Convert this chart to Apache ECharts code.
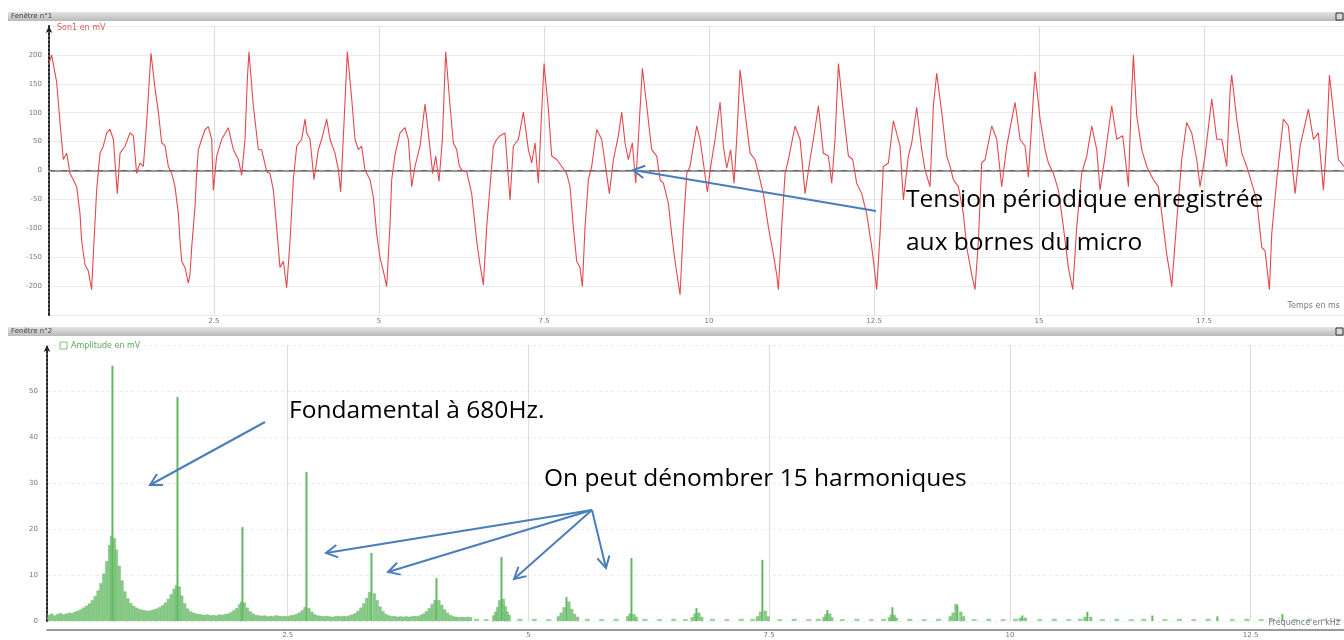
<!DOCTYPE html>
<html>
<head>
<meta charset="utf-8">
<script src="https://cdn.jsdelivr.net/npm/echarts@6/dist/echarts.min.js"></script>
<style>
  html, body { margin: 0; padding: 0; background: #ffffff; }
  #chart { width: 1344px; height: 640px; }
</style>
</head>
<body>
<div id="chart"></div>
<script>
// ---- Microphone voltage (Son1), time in ms, one line per period ----
const timeMs = [
  0.000,0.040,0.076,0.116,0.167,0.217,0.268,0.318,0.369,0.419,0.470,0.495,0.545,0.596,0.646,0.672,0.722,0.773,0.823,0.874,0.924,0.975,1.035,1.076,1.152,1.227,1.278,1.328,1.379,1.429,1.480,1.545,
  1.606,1.657,1.707,1.758,1.808,1.859,1.909,1.960,1.985,2.010,2.061,2.111,2.136,2.162,2.212,2.237,2.263,2.313,2.364,2.414,2.465,2.490,2.540,2.616,2.717,2.793,2.869,2.919,2.970,3.005,3.030,
  3.096,3.172,3.222,3.298,3.348,3.399,3.449,3.500,3.551,3.601,3.652,3.702,3.753,3.828,3.879,3.904,3.955,4.015,4.081,4.131,4.207,4.258,4.333,4.384,4.419,4.470,4.520,
  4.586,4.636,4.687,4.737,4.788,4.864,4.914,4.965,5.015,5.066,5.116,5.167,5.192,5.242,5.318,5.394,5.444,5.495,5.545,5.621,5.697,5.747,5.813,5.859,5.909,5.960,6.010,
  6.076,6.126,6.177,6.217,6.253,6.328,6.404,6.480,6.530,6.581,6.631,6.682,6.732,6.783,6.833,6.909,6.985,7.035,7.111,7.187,7.263,7.313,7.364,7.414,7.449,7.500,
  7.566,7.616,7.692,7.768,7.843,7.894,7.944,7.995,8.045,8.081,8.121,8.172,8.222,8.298,8.374,8.424,8.490,8.551,8.626,8.677,8.727,8.778,8.838,8.889,8.929,8.990,
  9.056,9.131,9.207,9.258,9.308,9.384,9.434,9.485,9.561,9.611,9.662,9.712,9.813,9.864,9.914,9.975,10.025,10.091,10.167,10.217,10.268,10.328,10.379,10.419,10.470,
  10.545,10.621,10.697,10.773,10.823,10.899,10.975,11.025,11.051,11.101,11.152,11.202,11.303,11.379,11.455,11.530,11.581,11.657,11.732,11.808,11.859,11.909,11.960,
  12.035,12.111,12.177,12.237,12.313,12.389,12.465,12.515,12.540,12.591,12.641,12.717,12.793,12.894,12.944,13.020,13.071,13.146,13.222,13.273,13.348,13.399,13.449,
  13.525,13.601,13.652,13.702,13.778,13.854,13.904,13.980,14.030,14.081,14.131,14.182,14.283,14.359,14.434,14.510,14.636,14.712,14.788,14.838,14.889,14.939,
  15.015,15.091,15.141,15.217,15.293,15.369,15.444,15.510,15.571,15.646,15.722,15.798,15.874,15.924,16.000,16.101,16.177,16.268,16.354,16.394,16.429,
  16.480,16.556,16.631,16.732,16.808,16.884,16.934,16.985,17.010,17.086,17.162,17.237,17.313,17.389,17.439,17.515,17.616,17.692,17.768,17.843,17.894,17.919,
  17.995,18.071,18.146,18.222,18.298,18.374,18.424,18.490,18.525,18.601,18.702,18.778,18.879,18.955,19.081,19.157,19.232,19.308,19.359,19.399,19.460,19.535,19.621
];
const tensionMv = [
  185,200,177,153,83,19,30,-5,-16,-28,-75,-122,-163,-174,-206,-145,-34,30,42,65,71,54,-40,30,42,65,60,-5,13,7,83,203,
  142,101,48,43,7,-5,-28,-75,-122,-157,-168,-195,-180,-133,-63,-5,36,54,71,76,54,-34,25,54,74,36,19,-8,54,159,205,
  112,36,36,-2,-5,-34,-98,-168,-157,-203,-122,-16,42,54,89,65,54,-16,36,54,89,54,30,1,-37,83,206,
  124,54,36,42,1,-16,-46,-110,-151,-174,-201,-92,-16,27,65,74,54,-28,7,42,115,65,-5,25,-19,54,206,
  112,48,36,7,1,-2,-40,-122,-163,-198,-98,-28,42,54,60,65,-51,42,54,101,36,13,48,-22,65,185,
  106,25,19,7,-5,-28,-98,-157,-168,-201,-98,-16,7,71,54,13,-40,19,60,101,48,19,48,-22,54,177,
  112,36,25,-16,-22,-57,-110,-157,-215,-98,-5,7,77,54,13,-37,7,54,118,42,4,36,-22,54,174,
  101,30,19,-16,-40,-98,-145,-180,-206,-98,-5,19,77,54,-40,19,54,112,30,25,-22,54,185,
  101,25,19,-22,-40,-75,-133,-180,-206,-110,7,13,86,42,-51,25,48,109,36,1,-28,112,168,
  101,25,7,-16,-28,-75,-133,-180,-206,-122,13,19,77,54,-28,42,118,54,42,-11,83,171,
  89,36,13,-5,-34,-98,-168,-206,-98,-5,25,77,36,-34,25,112,54,60,-28,112,200,
  95,36,7,-16,-28,-98,-145,-180,-201,-87,19,83,65,19,-28,25,124,54,54,7,136,165,
  89,30,7,-22,-51,-133,-139,-206,-110,-16,89,77,-40,42,106,54,65,-34,54,165,101,19,7
];

// ---- Amplitude spectrum, frequency in kHz, amplitude in mV ----
const harmonicFreqKHz = [0.685,1.360,2.035,2.700,3.375,4.050,4.725,5.400,6.075,6.750,7.435,8.110,8.785,9.460,10.135,10.810,11.485,12.160,12.835];
const harmonicAmpMv   = [55.5,48.7,20.4,32.4,14.8,9.3,13.9,5.2,13.7,2.8,13.3,2.4,3.0,3.4,1.2,2.0,1.2,1.0,1.5];

// spectral spread around the lines [kHz, mV]
const spectrumSkirt = [
  [0.02,1.3],[0.05,1.6],[0.08,1.2],[0.11,1.5],[0.14,1.7],[0.17,1.4],[0.20,1.6],[0.23,1.8],[0.26,1.7],[0.29,2.0],
  [0.32,2.2],[0.35,2.5],[0.38,2.9],[0.41,3.3],[0.44,3.8],[0.47,4.5],[0.50,5.4],[0.53,6.6],[0.56,8.2],[0.59,10.3],
  [0.62,13.0],[0.65,16.5],[0.67,18.5],[0.70,18.0],[0.72,15.5],[0.75,12.0],[0.78,8.8],[0.81,6.4],[0.84,4.9],[0.87,3.9],
  [0.90,3.3],[0.93,2.9],[0.96,2.6],[0.99,2.4],[1.02,2.3],[1.05,2.2],[1.08,2.3],[1.11,2.5],[1.14,2.7],[1.17,3.0],
  [1.20,3.4],[1.23,4.0],[1.26,4.8],[1.29,5.8],[1.32,7.0],[1.345,7.8],[1.375,7.5],[1.40,5.5],[1.43,3.8],[1.46,2.7],
  [1.49,2.1],[1.52,1.8],[1.55,1.6],[1.58,1.5],[1.61,1.4],[1.64,1.3],[1.67,1.4],[1.70,1.2],[1.73,1.3],[1.76,1.2],
  [1.79,1.4],[1.82,1.3],[1.85,1.5],[1.88,1.6],[1.91,1.9],[1.94,2.3],[1.97,2.8],[2.00,3.6],[2.02,4.2],[2.05,4.0],
  [2.08,2.9],[2.11,2.1],[2.14,1.6],[2.17,1.3],[2.20,1.2],[2.23,1.1],[2.26,1.2],[2.29,1.0],[2.32,1.1],[2.35,1.0],
  [2.38,1.2],[2.41,1.1],[2.44,1.0],[2.47,1.1],[2.50,1.0],[2.53,1.2],[2.56,1.3],[2.59,1.5],[2.62,1.8],[2.65,2.3],
  [2.68,3.0],[2.72,2.8],[2.75,2.0],[2.78,1.5],[2.81,1.2],[2.84,1.1],[2.87,1.0],[2.90,1.1],[2.93,1.0],[2.96,0.9],
  [2.99,1.0],[3.02,1.1],[3.05,1.0],[3.08,1.1],[3.11,1.0],[3.14,1.2],[3.17,1.4],[3.20,1.7],[3.23,2.2],[3.26,2.9],
  [3.29,3.8],[3.32,5.0],[3.35,6.3],[3.40,6.0],[3.43,4.5],[3.46,3.1],[3.49,2.1],[3.52,1.5],[3.55,1.2],[3.58,1.0],
  [3.61,1.1],[3.64,0.9],[3.67,1.0],[3.70,0.9],[3.73,1.0],[3.76,0.9],[3.79,1.0],[3.82,1.1],[3.85,1.0],[3.88,1.3],
  [3.91,1.6],[3.94,2.1],[3.97,2.8],[4.00,3.7],[4.03,4.6],[4.07,4.5],[4.10,3.5],[4.13,2.5],[4.16,1.8],[4.19,1.3],
  [4.22,1.0],[4.25,0.9],[4.28,0.8],[4.31,0.9],[4.34,0.8],[4.37,0.9],[4.40,0.8],
  [4.64,1.2],[4.66,2.0],[4.68,3.0],[4.70,4.5],[4.74,4.8],[4.76,3.2],[4.78,2.0],[4.80,1.3],
  [5.31,1.0],[5.34,1.8],[5.37,3.0],[5.42,4.2],[5.45,2.6],[5.48,1.5],[5.51,0.9],
  [6.03,1.0],[6.055,1.6],[6.095,1.5],[6.12,0.9],
  [6.70,0.8],[6.73,1.6],[6.77,1.8],[6.80,0.9],
  [7.38,1.0],[7.41,2.0],[7.46,2.2],[7.49,1.0],
  [8.07,0.9],[8.09,1.5],[8.13,1.6],[8.15,0.8],
  [8.75,0.8],[8.77,1.4],[8.80,1.3],[8.82,0.7],
  [9.38,1.0],[9.41,1.8],[9.44,3.7],[9.49,2.0],[9.52,1.0],
  [10.11,0.7],[10.16,0.7],[10.78,0.9],[10.84,0.9]
];

// residual noise floor between the lines [kHz, mV]
const spectrumFloor = [
  [4.45,0.5],[4.55,0.4],[4.90,0.5],[5.05,0.5],[5.20,0.4],[5.60,0.5],[5.75,0.4],[5.90,0.5],[6.20,0.5],[6.35,0.4],
  [6.50,0.5],[6.62,0.4],[6.90,0.5],[7.05,0.4],[7.20,0.5],[7.32,0.5],[7.60,0.4],[7.75,0.5],[7.90,0.4],[8.00,0.5],
  [8.25,0.4],[8.40,0.5],[8.55,0.4],[8.68,0.5],[8.95,0.5],[9.10,0.4],[9.25,0.5],[9.62,0.4],[9.77,0.5],[9.92,0.4],
  [10.05,0.5],[10.30,0.4],[10.45,0.5],[10.60,0.4],[10.72,0.5],[10.95,0.4],[11.10,0.5],[11.25,0.4],[11.38,0.5],[11.60,0.4],
  [11.75,0.5],[11.90,0.4],[12.05,0.5],[12.30,0.4],[12.45,0.5],[12.60,0.4],[12.72,0.5],[12.95,0.4],[13.10,0.5],[13.25,0.4],
  [13.40,0.5]
];

const tensionData = timeMs.map((t, i) => [t, tensionMv[i]]);
const harmonicData = harmonicFreqKHz.map((f, i) => [f, harmonicAmpMv[i]]);

const tickFont = { fontFamily: 'DejaVu Sans', fontSize: 7, color: '#777777' };
const noteFont = '24.5px "Open Sans"';
const arrowBlue = '#4a7ebb';

// open "V" arrow from a tail point to a tip point
function arrow(x1, y1, x2, y2) {
  const ang = Math.atan2(y2 - y1, x2 - x1);
  const L = 13, a = 0.5;
  const p1 = [x2 - L * Math.cos(ang - a), y2 - L * Math.sin(ang - a)];
  const p2 = [x2 - L * Math.cos(ang + a), y2 - L * Math.sin(ang + a)];
  return [
    { type: 'line', shape: { x1, y1, x2, y2 }, style: { stroke: arrowBlue, lineWidth: 2 }, z: 50 },
    { type: 'polyline', shape: { points: [p1, [x2, y2], p2] }, style: { stroke: arrowBlue, lineWidth: 2, fill: null }, z: 50 }
  ];
}

// grey title strip of each acquisition window
function windowBar(y, label) {
  return [
    { type: 'rect', shape: { x: 8, y, width: 1336, height: 9 },
      style: { fill: new echarts.graphic.LinearGradient(0, 0, 0, 1, [
        { offset: 0, color: '#e4e4e4' }, { offset: 1, color: '#b9b9b9' }]) }, z: 1 },
    { type: 'text', x: 11, y: y + 4.5, style: { text: label, font: '7px "DejaVu Sans"', fill: '#444', verticalAlign: 'middle' }, z: 2 },
    { type: 'rect', shape: { x: 1336, y: y + 1, width: 7, height: 7 }, style: { fill: '#d8d8d8', stroke: '#333', lineWidth: 1 }, z: 2 }
  ];
}

const chart = echarts.init(document.getElementById('chart'), null, { renderer: 'canvas' });

const option = {
  animation: false,
  backgroundColor: '#ffffff',
  grid: [
    { left: 49, right: 0, top: 26, height: 289 },
    { left: 47, right: 0, top: 345, height: 276 }
  ],
  xAxis: [
    {
      gridIndex: 0, type: 'value', min: 0, max: 19.62, interval: 2.5,
      axisLine: { lineStyle: { color: '#9a9a9a', width: 2 } },
      axisTick: { show: false },
      axisLabel: Object.assign({ margin: 3, showMinLabel: false, showMaxLabel: false,
        formatter: v => (v === 0 ? '' : String(v)) }, tickFont),
      splitLine: { show: true, lineStyle: { color: '#dcdcdc', width: 1 } }
    },
    {
      gridIndex: 1, type: 'value', min: 0, max: 13.47, interval: 2.5, offset: 9,
      axisLine: { onZero: false, lineStyle: { color: '#9a9a9a', width: 2 } },
      axisTick: { show: false },
      axisLabel: Object.assign({ margin: 2, showMinLabel: false, showMaxLabel: false,
        formatter: v => (v === 0 ? '' : String(v)) }, tickFont),
      splitLine: { show: true, lineStyle: { color: '#dcdcdc', width: 1 } }
    }
  ],
  yAxis: [
    {
      gridIndex: 0, type: 'value', min: -250, max: 250, interval: 50,
      axisLine: { show: true, symbol: ['none', 'arrow'], symbolSize: [5, 7],
        lineStyle: { color: '#222', width: 2, type: [2, 2] } },
      axisTick: { show: false },
      axisLabel: Object.assign({ margin: 7,
        formatter: v => (Math.abs(v) === 250 ? '' : String(v)) }, tickFont),
      splitLine: { show: true, lineStyle: { color: '#ebebeb', width: 1 } }
    },
    {
      gridIndex: 1, type: 'value', min: 0, max: 60, interval: 10,
      axisLine: { show: true, symbol: ['none', 'arrow'], symbolSize: [5, 7],
        lineStyle: { color: '#222', width: 2, type: [2, 2] } },
      axisTick: { show: false },
      axisLabel: Object.assign({ margin: 9,
        formatter: v => (v === 60 ? '' : String(v)) }, tickFont),
      splitLine: { show: true, lineStyle: { color: '#ececec', width: 1, type: [3, 3] } }
    }
  ],
  series: [
    {
      name: 'Son1 en mV', type: 'line', xAxisIndex: 0, yAxisIndex: 0,
      data: tensionData, showSymbol: false, smooth: false, z: 5,
      lineStyle: { color: '#e3484f', width: 1.1 },
      markLine: {
        silent: true, symbol: 'none', label: { show: false },
        lineStyle: { color: '#666', type: [6, 6], width: 1 },
        data: [{ yAxis: 0 }]
      }
    },
    {
      name: 'floor', type: 'bar', xAxisIndex: 1, yAxisIndex: 1,
      data: spectrumFloor, barWidth: 5, barGap: '-100%', z: 2,
      itemStyle: { color: '#9fd39f' }
    },
    {
      name: 'Amplitude en mV', type: 'bar', xAxisIndex: 1, yAxisIndex: 1,
      data: harmonicData, barWidth: 2, barGap: '-100%', z: 4,
      itemStyle: { color: '#63b863' }
    },
    {
      name: 'skirt', type: 'bar', xAxisIndex: 1, yAxisIndex: 1,
      data: spectrumSkirt, barWidth: 3, barGap: '-100%', z: 3,
      itemStyle: { color: 'rgba(118,196,118,0.85)', borderColor: '#5aa85a', borderWidth: 0.3 }
    }
  ],
  graphic: [].concat(
    windowBar(12, 'Fenêtre n°1'),
    windowBar(327, 'Fenêtre n°2'),
    [
      { type: 'text', x: 57, y: 28, style: { text: 'Son1 en mV', font: '8px "DejaVu Sans"', fill: '#e05a5a', verticalAlign: 'middle' }, z: 20 },
      { type: 'rect', shape: { x: 60, y: 342, width: 7, height: 7 }, style: { fill: '#ffffff', stroke: '#7cc27c', lineWidth: 1 }, z: 20 },
      { type: 'text', x: 71, y: 346, style: { text: 'Amplitude en mV', font: '8px "DejaVu Sans"', fill: '#5aaa5a', verticalAlign: 'middle' }, z: 20 },
      { type: 'text', x: 1340, y: 306, style: { text: 'Temps en ms', font: '8px "DejaVu Sans"', fill: '#777', align: 'right', verticalAlign: 'middle' }, z: 20 },
      { type: 'text', x: 1340, y: 623, style: { text: 'Fréquence en kHz', font: '8px "DejaVu Sans"', fill: '#777', align: 'right', verticalAlign: 'middle' }, z: 20 },
      { type: 'text', x: 906, y: 200, style: { text: 'Tension périodique enregistrée', font: noteFont, fill: '#000', verticalAlign: 'middle' }, z: 60 },
      { type: 'text', x: 906, y: 243, style: { text: 'aux bornes du micro', font: noteFont, fill: '#000', verticalAlign: 'middle' }, z: 60 },
      { type: 'text', x: 289, y: 411, style: { text: 'Fondamental à 680Hz.', font: noteFont, fill: '#000', verticalAlign: 'middle' }, z: 60 },
      { type: 'text', x: 544, y: 479, style: { text: 'On peut dénombrer 15 harmoniques', font: noteFont, fill: '#000', verticalAlign: 'middle' }, z: 60 }
    ],
    arrow(876, 211, 633, 170),
    arrow(265, 422, 150, 485),
    arrow(592, 510, 326, 553),
    arrow(592, 510, 388, 572),
    arrow(592, 510, 514, 579),
    arrow(592, 510, 606, 568)
  )
};

chart.setOption(option);
</script>
</body>
</html>
